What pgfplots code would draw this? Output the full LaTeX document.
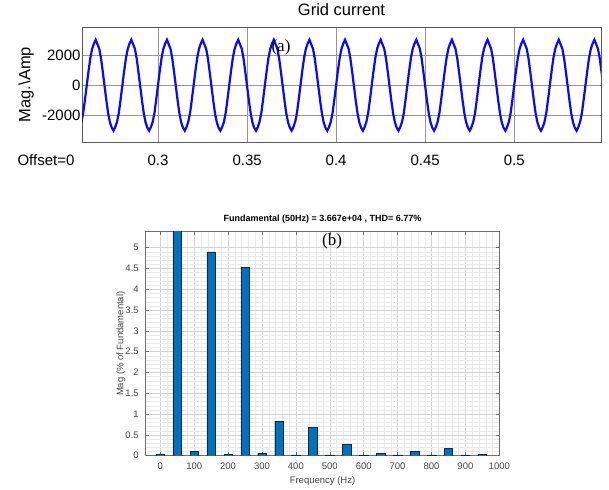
\documentclass[border=0pt]{standalone}
\usepackage{pgfplots}
\pgfplotsset{compat=1.18}
\usepackage{fontspec}
\setmainfont{Liberation Sans}
\newfontfamily\seriffont{Liberation Serif}
\definecolor{matblue}{RGB}{0,114,189}
\definecolor{wave}{RGB}{10,10,245}
\definecolor{gridtop}{RGB}{150,150,150}
\definecolor{frametop}{RGB}{90,90,90}
\definecolor{gridmaj}{RGB}{212,212,212}
\definecolor{gridmin}{RGB}{234,234,234}
\definecolor{framebot}{RGB}{110,110,110}
\definecolor{labbot}{RGB}{70,70,70}

\begin{document}
\begin{tikzpicture}
\useasboundingbox (0,0) rectangle (609bp,-490bp);

% (a) grid current
\begin{axis}[
  at={(82bp,-142bp)}, anchor=south west,
  width=519bp, height=115bp, scale only axis,
  xmin=0.2573, xmax=0.5487, ymin=-3750, ymax=3900,
  xtick={0.3,0.35,0.4,0.45,0.5},
  xticklabels={0.3,0.35,0.4,0.45,0.5},
  ytick={-2000,0,2000},
  yticklabels={-2000,0,2000},
  major tick length=0pt,
  grid=major,
  major grid style={draw=gridtop, line width=0.7bp},
  axis line style={draw=frametop, line width=0.9bp},
  tick label style={font=\fontsize{15bp}{18bp}\selectfont, text=black},
  xticklabel style={anchor=base, yshift=-23bp},
  yticklabel style={xshift=2bp},
  title={Grid current},
  title style={font=\fontsize{16.5bp}{20bp}\selectfont, at={(axis description cs:0.5,1)}, anchor=base, yshift=6bp},
  ylabel={Mag.\textbackslash Amp},
  ylabel style={font=\fontsize{16.5bp}{20bp}\selectfont, at={(axis description cs:-0.1079,0.5)}, anchor=center},
]
\addplot[wave, line width=2.2bp] coordinates {
(0.256,-2750) (0.257,-2400) (0.258,-1800) (0.259,-900)
(0.260,50) (0.261,1000) (0.262,1850) (0.263,2450) (0.264,2800) (0.265,3050) (0.266,2750) (0.267,2450) (0.268,1800) (0.269,900)
(0.270,-50) (0.271,-1000) (0.272,-1850) (0.273,-2450) (0.274,-2800) (0.275,-3000) (0.276,-2750) (0.277,-2400) (0.278,-1800) (0.279,-900)
(0.280,50) (0.281,1000) (0.282,1850) (0.283,2450) (0.284,2800) (0.285,3050) (0.286,2750) (0.287,2450) (0.288,1800) (0.289,900)
(0.290,-50) (0.291,-1000) (0.292,-1850) (0.293,-2450) (0.294,-2800) (0.295,-3000) (0.296,-2750) (0.297,-2400) (0.298,-1800) (0.299,-900)
(0.300,50) (0.301,1000) (0.302,1850) (0.303,2450) (0.304,2800) (0.305,3050) (0.306,2750) (0.307,2450) (0.308,1800) (0.309,900)
(0.310,-50) (0.311,-1000) (0.312,-1850) (0.313,-2450) (0.314,-2800) (0.315,-3000) (0.316,-2750) (0.317,-2400) (0.318,-1800) (0.319,-900)
(0.320,50) (0.321,1000) (0.322,1850) (0.323,2450) (0.324,2800) (0.325,3050) (0.326,2750) (0.327,2450) (0.328,1800) (0.329,900)
(0.330,-50) (0.331,-1000) (0.332,-1850) (0.333,-2450) (0.334,-2800) (0.335,-3000) (0.336,-2750) (0.337,-2400) (0.338,-1800) (0.339,-900)
(0.340,50) (0.341,1000) (0.342,1850) (0.343,2450) (0.344,2800) (0.345,3050) (0.346,2750) (0.347,2450) (0.348,1800) (0.349,900)
(0.350,-50) (0.351,-1000) (0.352,-1850) (0.353,-2450) (0.354,-2800) (0.355,-3000) (0.356,-2750) (0.357,-2400) (0.358,-1800) (0.359,-900)
(0.360,50) (0.361,1000) (0.362,1850) (0.363,2450) (0.364,2800) (0.365,3050) (0.366,2750) (0.367,2450) (0.368,1800) (0.369,900)
(0.370,-50) (0.371,-1000) (0.372,-1850) (0.373,-2450) (0.374,-2800) (0.375,-3000) (0.376,-2750) (0.377,-2400) (0.378,-1800) (0.379,-900)
(0.380,50) (0.381,1000) (0.382,1850) (0.383,2450) (0.384,2800) (0.385,3050) (0.386,2750) (0.387,2450) (0.388,1800) (0.389,900)
(0.390,-50) (0.391,-1000) (0.392,-1850) (0.393,-2450) (0.394,-2800) (0.395,-3000) (0.396,-2750) (0.397,-2400) (0.398,-1800) (0.399,-900)
(0.400,50) (0.401,1000) (0.402,1850) (0.403,2450) (0.404,2800) (0.405,3050) (0.406,2750) (0.407,2450) (0.408,1800) (0.409,900)
(0.410,-50) (0.411,-1000) (0.412,-1850) (0.413,-2450) (0.414,-2800) (0.415,-3000) (0.416,-2750) (0.417,-2400) (0.418,-1800) (0.419,-900)
(0.420,50) (0.421,1000) (0.422,1850) (0.423,2450) (0.424,2800) (0.425,3050) (0.426,2750) (0.427,2450) (0.428,1800) (0.429,900)
(0.430,-50) (0.431,-1000) (0.432,-1850) (0.433,-2450) (0.434,-2800) (0.435,-3000) (0.436,-2750) (0.437,-2400) (0.438,-1800) (0.439,-900)
(0.440,50) (0.441,1000) (0.442,1850) (0.443,2450) (0.444,2800) (0.445,3050) (0.446,2750) (0.447,2450) (0.448,1800) (0.449,900)
(0.450,-50) (0.451,-1000) (0.452,-1850) (0.453,-2450) (0.454,-2800) (0.455,-3000) (0.456,-2750) (0.457,-2400) (0.458,-1800) (0.459,-900)
(0.460,50) (0.461,1000) (0.462,1850) (0.463,2450) (0.464,2800) (0.465,3050) (0.466,2750) (0.467,2450) (0.468,1800) (0.469,900)
(0.470,-50) (0.471,-1000) (0.472,-1850) (0.473,-2450) (0.474,-2800) (0.475,-3000) (0.476,-2750) (0.477,-2400) (0.478,-1800) (0.479,-900)
(0.480,50) (0.481,1000) (0.482,1850) (0.483,2450) (0.484,2800) (0.485,3050) (0.486,2750) (0.487,2450) (0.488,1800) (0.489,900)
(0.490,-50) (0.491,-1000) (0.492,-1850) (0.493,-2450) (0.494,-2800) (0.495,-3000) (0.496,-2750) (0.497,-2400) (0.498,-1800) (0.499,-900)
(0.500,50) (0.501,1000) (0.502,1850) (0.503,2450) (0.504,2800) (0.505,3050) (0.506,2750) (0.507,2450) (0.508,1800) (0.509,900)
(0.510,-50) (0.511,-1000) (0.512,-1850) (0.513,-2450) (0.514,-2800) (0.515,-3000) (0.516,-2750) (0.517,-2400) (0.518,-1800) (0.519,-900)
(0.520,50) (0.521,1000) (0.522,1850) (0.523,2450) (0.524,2800) (0.525,3050) (0.526,2750) (0.527,2450) (0.528,1800) (0.529,900)
(0.530,-50) (0.531,-1000) (0.532,-1850) (0.533,-2450) (0.534,-2800) (0.535,-3000) (0.536,-2750) (0.537,-2400) (0.538,-1800) (0.539,-900)
(0.540,50) (0.541,1000) (0.542,1850) (0.543,2450) (0.544,2800) (0.545,3050) (0.546,2750) (0.547,2450) (0.548,1800) (0.549,900)
(0.550,-50)
};
\node[font=\seriffont\fontsize{17bp}{20bp}\selectfont] at (rel axis cs:0.3834,0.826) {(a)};
\end{axis}

\node[anchor=base west, font=\fontsize{15bp}{18bp}\selectfont] at (14bp,-165bp) {Offset=0};

% (b) FFT spectrum
\begin{axis}[
  at={(145.7bp,-455.7bp)}, anchor=south west,
  width=353.6bp, height=224bp, scale only axis,
  xmin=-43, xmax=1000, ymin=0, ymax=5.385,
  ybar, bar width=25,
  xtick={0,100,200,300,400,500,600,700,800,900,1000},
  xticklabels={0,100,200,300,400,500,600,700,800,900,1000},
  ytick={0,0.5,1,1.5,2,2.5,3,3.5,4,4.5,5},
  yticklabels={0,0.5,1,1.5,2,2.5,3,3.5,4,4.5,5},
  minor x tick num=4, minor y tick num=4,
  grid=both,
  major grid style={draw=gridmaj, line width=0.5bp},
  minor grid style={draw=gridmin, line width=0.4bp},
  tick align=inside, major tick length=3.5bp, minor tick length=0bp,
  tick style={draw=framebot, line width=0.5bp},
  axis line style={draw=framebot, line width=0.6bp},
  tick label style={font=\fontsize{9.5bp}{11bp}\selectfont, text=labbot},
  xticklabel style={anchor=base, yshift=-13.3bp},
  yticklabel style={xshift=-3.5bp},
  title={\bfseries Fundamental (50Hz) = 3.667e+04 , THD= 6.77\%},
  title style={font=\fontsize{9bp}{11bp}\selectfont, at={(axis description cs:0.5,1)}, anchor=base, yshift=4.7bp},
  xlabel={Frequency (Hz)},
  xlabel style={font=\fontsize{9.5bp}{11bp}\selectfont, text=labbot, at={(axis description cs:0.5,0)}, anchor=base, yshift=-27.8bp},
  ylabel={Mag (\% of Fundamental)},
  ylabel style={font=\fontsize{9.5bp}{11bp}\selectfont, text=labbot, at={(axis description cs:-0.0699,0.5)}, anchor=center},
]
\addplot[fill=matblue, draw={rgb,255:red,20;green,40;blue,60}, line width=0.4bp] coordinates {
(0,0.04) (50,100) (100,0.11) (150,4.90) (200,0.04) (250,4.53) (300,0.06) (350,0.83) (400,0.02) (450,0.68)
(500,0.02) (550,0.27) (600,0.02) (650,0.055) (700,0.02) (750,0.10) (800,0.02) (850,0.18) (900,0.02) (950,0.04)
};
\node[font=\seriffont\fontsize{17bp}{20bp}\selectfont] at (rel axis cs:0.527,0.956) {(b)};
\end{axis}
\end{tikzpicture}
\end{document}
